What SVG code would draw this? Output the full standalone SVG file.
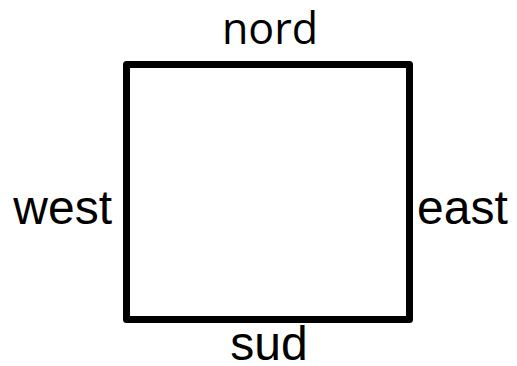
<svg xmlns="http://www.w3.org/2000/svg" width="517" height="366" viewBox="0 0 517 366">
<style>
.lbl{font-family:"Liberation Sans",Arial,sans-serif;font-size:48px;fill:#000}
.box{fill:#fff;stroke:#000;stroke-width:7;stroke-linejoin:round}
</style>
<rect width="517" height="366" fill="#fff"/>
<g id="square"><rect class="box" x="126.5" y="64.5" width="283" height="255"/></g>
<g id="nord"><text class="lbl" x="270" y="44" text-anchor="middle" style="font-family:'Open Sans','Liberation Sans',sans-serif;font-size:43px">nord</text></g>
<g id="west"><text class="lbl" x="112" y="224" text-anchor="end">west</text></g>
<g id="east"><text class="lbl" x="417" y="224">east</text></g>
<g id="sud"><text class="lbl" x="269" y="360" text-anchor="middle">sud</text></g>
</svg>
